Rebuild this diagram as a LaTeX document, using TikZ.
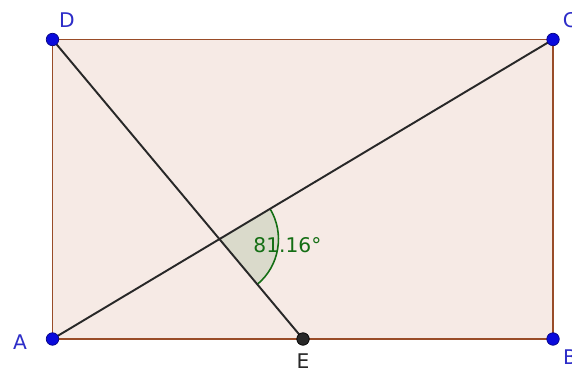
\documentclass[tikz,border=0pt]{standalone}
\usepackage{fontspec}
\setmainfont{DejaVu Sans}
\usetikzlibrary{calc, angles}
\definecolor{geobrown}{RGB}{153,76,40}
\definecolor{geofill}{RGB}{246,234,229}
\definecolor{geoblue}{RGB}{10,10,220}
\definecolor{geolabel}{RGB}{45,45,200}
\definecolor{geogreen}{RGB}{20,110,20}
\definecolor{geodark}{RGB}{40,40,40}

\begin{document}
\begin{tikzpicture}[font=\fontsize{11.5}{13}\selectfont,
        titik/.style={circle, fill=geoblue, draw=geoblue!60!black, line width=0.4pt,
                      inner sep=0pt, minimum size=0.25cm},
        titikE/.style={titik, fill=geodark, draw=black},
        ruas/.style={draw=geodark, line width=1.1pt},
        lbl/.style={text=geolabel}
    ]
        \useasboundingbox (0,0) rectangle (11.44,-7.54);
        \fill[white] (0,0) rectangle (11.44,-7.54);

        \coordinate (A) at (1.05,-6.78);
        \coordinate (B) at (11.06,-6.78);
        \coordinate (C) at (11.06,-0.79);
        \coordinate (D) at (1.05,-0.79);
        \coordinate (E) at (6.06,-6.78);

        \draw[geobrown, line width=1pt, fill=geofill] (A) -- (B) -- (C) -- (D) -- cycle;

        \coordinate (S) at (intersection of A--C and D--E);
        \pic[draw=geogreen, line width=0.9pt, fill=geogreen, fill opacity=0.12,
             angle radius=1.18cm] {angle = E--S--C};

        \draw[ruas] (A) -- (C);
        \draw[ruas] (D) -- (E);

        \node[text=geogreen] (sudut) at ($(S)+(1.36,-0.12)$) {81.16°};

        \node[titik] (tA) at (A) {};
        \node[titik] (tB) at (B) {};
        \node[titik] (tC) at (C) {};
        \node[titik] (tD) at (D) {};
        \node[titikE] (tE) at (E) {};

        \node[lbl] (lA) at (0.4,-6.85) {A};
        \node[lbl] (lB) at (11.4,-7.15) {B};
        \node[lbl] (lC) at (11.4,-0.4) {C};
        \node[lbl] (lD) at (1.34,-0.4) {D};
        \node[text=geodark] (lE) at (6.06,-7.22) {E};
    \end{tikzpicture}
\end{document}
